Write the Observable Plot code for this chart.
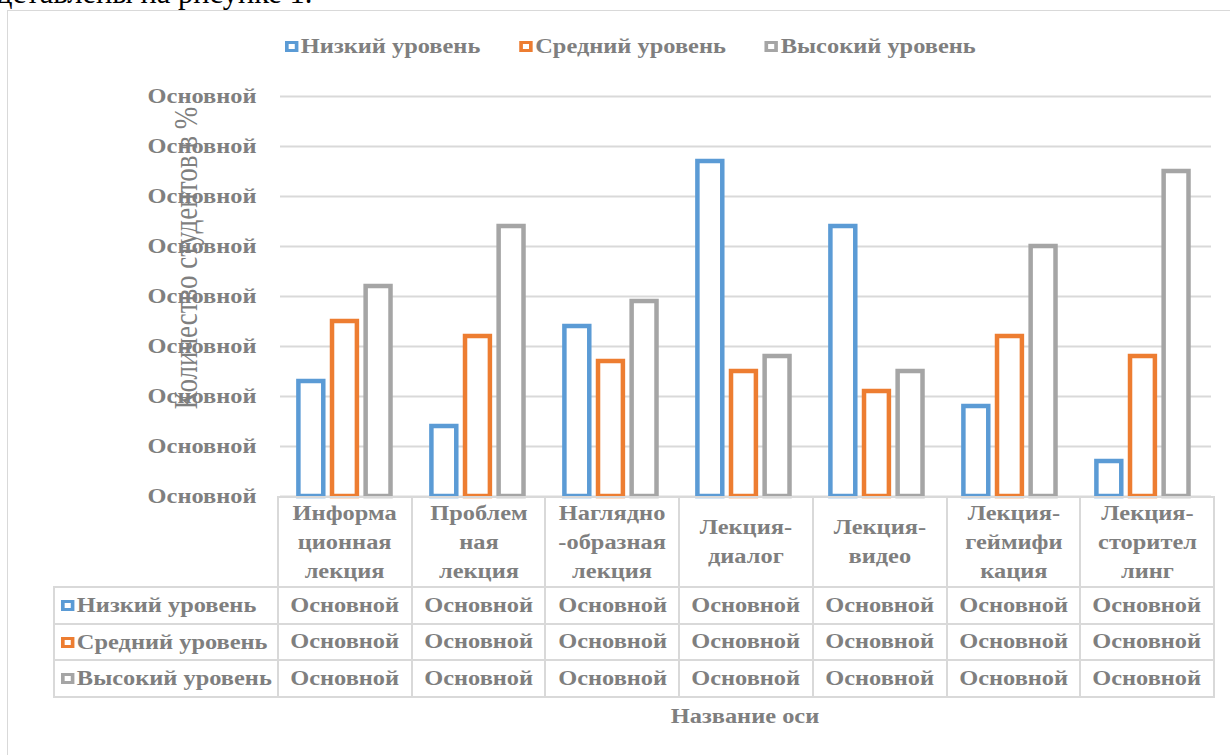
<!DOCTYPE html>
<html>
<head>
<meta charset="utf-8">
<script src="https://cdn.jsdelivr.net/npm/d3@7"></script>
<script src="https://cdn.jsdelivr.net/npm/@observablehq/plot@0.6"></script>
<style>
  html, body { margin: 0; padding: 0; background: #fff; }
  body { position: relative; width: 1230px; height: 755px; overflow: hidden; font-family: "Liberation Serif", "Times New Roman", serif; }
  .abs { position: absolute; }
  #frame { left: 7px; top: 10px; width: 1300px; height: 800px; border: 1.5px solid #d9d9d9; box-sizing: border-box; }
  #toptext { left: -3px; top: -22px; font-size: 30.5px; color: #000; white-space: nowrap; line-height: 1; }
  #legend { left: 285px; top: 35px; display: flex; gap: 32px; font-size: 20px; font-weight: bold; color: #7f7f7f; white-space: nowrap; transform: scaleX(1.22); transform-origin: left center; }
  .item { display: flex; align-items: center; }
  .sw { width: 5px; height: 5px; border: 3.5px solid; background: #fff; margin-right: 2px; box-sizing: content-box; }
  #ytitle { left: 187px; top: 258px; transform: translate(-50%, -50%) rotate(-90deg) scale(1, 1.22); font-size: 27px; color: #7f7f7f; white-space: nowrap; }
  #table { left: 53px; top: 496px; border-collapse: collapse; table-layout: fixed; width: 1160px; font-size: 20px; font-weight: bold; color: #7f7f7f; }
  #table td { border: 2px solid #d9d9d9; text-align: center; padding: 0; white-space: nowrap; }
  #table td .st { display: inline-block; transform: scaleX(1.22); transform-origin: center center; }
  #table tr.head td { height: 88px; line-height: 29px; white-space: pre; vertical-align: middle; }
  #table tr.head td.blank { border-top: none; border-left: none; }
  #table tr.row td { height: 34.5px; }
  #table td.rh { text-align: left; padding-left: 6px; }
  #table td.rh .item { display: inline-flex; transform: scaleX(1.22); transform-origin: left center; }
  #xtitle { left: 745px; top: 716px; transform: translate(-50%, -50%) scaleX(1.22); font-size: 20px; font-weight: bold; color: #7f7f7f; white-space: nowrap; }
</style>
</head>
<body>
<div id="frame" class="abs"></div>
<div id="toptext" class="abs">дставлены на рисунке 1.</div>
<div id="chart" class="abs" style="left:0;top:0"></div>
<div id="legend" class="abs"></div>
<div id="ytitle" class="abs">Количество студентов в %</div>
<table id="table" class="abs"></table>
<div id="xtitle" class="abs">Название оси</div>
<script>
// ---- data ----
const categories = ["Информационная лекция", "Проблемная лекция", "Наглядно-образная лекция", "Лекция-диалог", "Лекция-видео", "Лекция-геймификация", "Лекция-сторителлинг"];
const categoryLabels = ["Информа\nционная\nлекция", "Проблем\nная\nлекция", "Наглядно\n-образная\nлекция", "Лекция-\nдиалог", "Лекция-\nвидео", "Лекция-\nгеймифи\nкация", "Лекция-\nсторител\nлинг"];
const series = ["Низкий уровень", "Средний уровень", "Высокий уровень"];
const lowValues = [23, 14, 34, 67, 54, 18, 7];
const midValues = [35, 32, 27, 25, 21, 32, 28];
const highValues = [42, 54, 39, 28, 25, 50, 65];
const yTicks = [0, 10, 20, 30, 40, 50, 60, 70, 80];
const valueFormatLabel = "Основной";
const seriesColors = ["#5b9bd5", "#ed7d31", "#a5a5a5"];

const seriesValues = [lowValues, midValues, highValues];
const data = [];
categories.forEach((c, i) => series.forEach((s, j) => data.push({category: c, series: s, value: seriesValues[j][i]})));

const chart = Plot.plot({
  width: 1230,
  height: 500,
  marginLeft: 277,
  marginRight: 17,
  marginTop: 96,
  marginBottom: 4,
  style: {background: "transparent", fontFamily: "Liberation Serif", fontSize: "20px", fontWeight: "bold", color: "#7f7f7f", overflow: "visible"},
  fx: {domain: categories, padding: 0, axis: null, label: null},
  x: {domain: series, paddingInner: 0.26, paddingOuter: 0.608, align: 0.45, round: false, axis: null, label: null},
  y: {domain: [0, 80], ticks: yTicks, tickFormat: () => valueFormatLabel, tickSize: 0, tickPadding: 24, label: null},
  color: {domain: series, range: seriesColors},
  marks: [
    Plot.ruleY(yTicks, {stroke: "#d9d9d9", strokeWidth: 2}),
    Plot.barY(data, {fx: "category", x: "series", y: "value", fill: "white", stroke: "series", strokeWidth: 4.5})
  ]
});
// stretch the y tick labels horizontally, as in the reference
chart.querySelectorAll('g[aria-label="y-axis tick label"] text').forEach(t => {
  const tr = t.getAttribute("transform") || "";
  const x = t.getAttribute("x");
  if (x !== null) { t.setAttribute("x", 0); t.setAttribute("transform", `${tr} translate(${x},0) scale(1.22,1)`); }
  else t.setAttribute("transform", `${tr} scale(1.22,1)`);
});
document.getElementById("chart").appendChild(chart);

// legend
const legend = document.getElementById("legend");
series.forEach((s, j) => {
  const it = document.createElement("div");
  it.className = "item";
  it.innerHTML = `<span class="sw" style="border-color:${seriesColors[j]}"></span><span>${s}</span>`;
  legend.appendChild(it);
});

// data table
const table = document.getElementById("table");
const colgroup = document.createElement("colgroup");
colgroup.innerHTML = `<col style="width:224px">` + categories.map(() => `<col style="width:${936 / categories.length}px">`).join("");
table.appendChild(colgroup);
const head = document.createElement("tr");
head.className = "head";
head.innerHTML = `<td class="blank"></td>` + categoryLabels.map(l => `<td><span class="st">${l}</span></td>`).join("");
table.appendChild(head);
series.forEach((s, j) => {
  const tr = document.createElement("tr");
  tr.className = "row";
  tr.innerHTML = `<td class="rh"><div class="item"><span class="sw" style="border-color:${seriesColors[j]}"></span><span>${s}</span></div></td>` +
    seriesValues[j].map(v => `<td title="${v}"><span class="st">${valueFormatLabel}</span></td>`).join("");
  table.appendChild(tr);
});
</script>
</body>
</html>
